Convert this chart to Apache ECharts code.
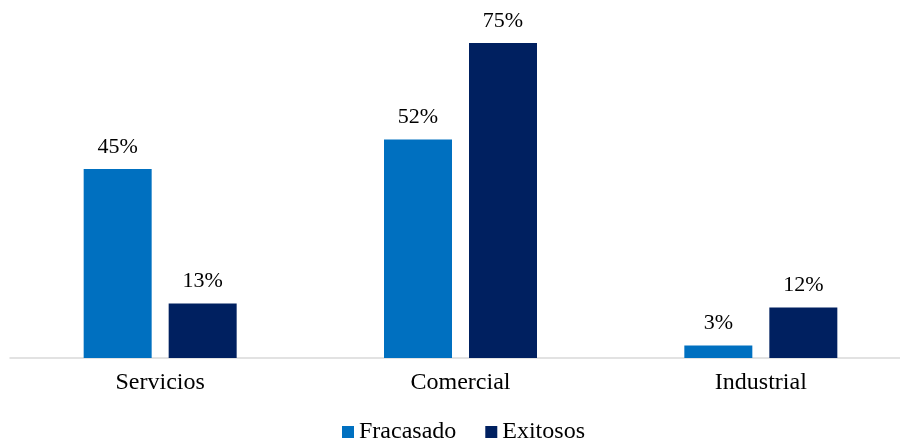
<!DOCTYPE html>
<html>
<head>
<meta charset="utf-8">
<script src="https://cdn.jsdelivr.net/npm/echarts@6/dist/echarts.min.js"></script>
<style>
html, body { margin: 0; padding: 0; background: #fff; }
#box1 { width: 900px; height: 446px; }
</style>
</head>
<body>
<div id="box1"></div>
<script>
let categories = ['Servicios', 'Comercial', 'Industrial'];
let fracasado = [45, 52, 3];
let exitosos = [13, 75, 12];

let font = '"Liberation Serif", "Times New Roman", serif';

let box1 = document.querySelector('#box1');
let myChart1 = echarts.init(box1);
let labelStyle = {
    show: true,
    position: 'top',
    distance: 11,
    formatter: '{c}%',
    color: '#000',
    fontFamily: font,
    fontSize: 22
};
let option1 = {
    animation: false,
    legend: {
        top: 420,
        left: 342,
        padding: 0,
        itemWidth: 12,
        itemHeight: 12,
        itemGap: 29,
        icon: 'rect',
        textStyle: {
            color: '#000',
            fontFamily: font,
            fontSize: 24
        }
    },
    grid: {
        left: 10,
        width: 901,
        top: 22,
        bottom: 88,
        outerBoundsMode: 'none',
        containLabel: false
    },
    xAxis: {
        type: 'category',
        data: categories,
        axisTick: { show: false },
        axisLine: { lineStyle: { color: '#D9D9D9', width: 1.5 } },
        axisLabel: {
            color: '#000',
            fontFamily: font,
            fontSize: 24,
            margin: 13
        }
    },
    yAxis: {
        type: 'value',
        min: 0,
        max: 80,
        show: false,
        splitLine: { show: false }
    },
    series: [
        {
            name: 'Fracasado',
            type: 'bar',
            data: fracasado,
            barWidth: 68,
            barGap: '25%',
            itemStyle: { color: '#0070C0' },
            label: labelStyle
        },
        {
            name: 'Exitosos',
            type: 'bar',
            data: exitosos,
            barWidth: 68,
            barGap: '25%',
            itemStyle: { color: '#002060' },
            label: labelStyle
        }
    ]
};
myChart1.setOption(option1);
</script>
</body>
</html>
